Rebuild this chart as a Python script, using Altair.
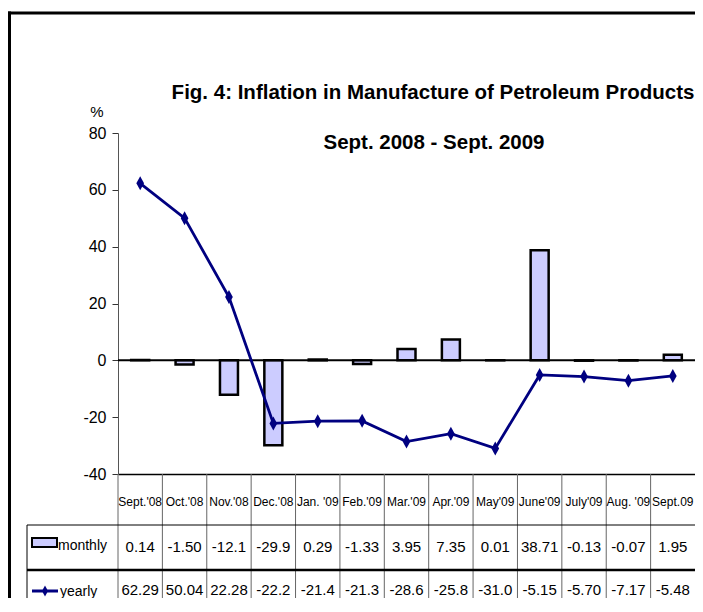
import altair as alt
import pandas as pd

# ---- data ----
cats = ["Sept.'08", "Oct.'08", "Nov.'08", "Dec.'08", "Jan. '09", "Feb.'09", "Mar.'09",
        "Apr.'09", "May'09", "June'09", "July'09", "Aug. '09", "Sept.09"]
monthly = [0.14, -1.50, -12.1, -29.9, 0.29, -1.33, 3.95, 7.35, 0.01, 38.71, -0.13, -0.07, 1.95]
monthly_lbl = ["0.14", "-1.50", "-12.1", "-29.9", "0.29", "-1.33", "3.95", "7.35", "0.01",
               "38.71", "-0.13", "-0.07", "1.95"]
yearly = [62.29, 50.04, 22.28, -22.2, -21.4, -21.3, -28.6, -25.8, -31.0, -5.15, -5.70, -7.17, -5.48]
yearly_lbl = ["62.29", "50.04", "22.28", "-22.2", "-21.4", "-21.3", "-28.6", "-25.8", "-31.0",
              "-5.15", "-5.70", "-7.17", "-5.48"]
yticks = [-40, -20, 0, 20, 40, 60, 80]
title1 = "Fig. 4: Inflation in Manufacture of Petroleum Products"
title2 = "Sept. 2008 - Sept. 2009"

df = pd.DataFrame({"cat": cats, "monthly": monthly, "monthly_lbl": monthly_lbl,
                   "yearly": yearly, "yearly_lbl": yearly_lbl})
one = pd.DataFrame({"k": [0]})

W, H = 577, 341
FONT = "Liberation Sans Narrow, Arial Narrow, Liberation Sans, Arial, sans-serif"
NAVY = "#000080"
LAV = "#CCCCFF"
DIAMOND = "M0,-1L0.55,0L0,1L-0.55,0Z"

xs = alt.Scale(domain=cats, paddingInner=0, paddingOuter=0)
ys = alt.Scale(domain=[-40, 80], nice=False, zero=False)
x_axis = alt.Axis(labels=False, ticks=False, title=None, grid=False,
                  domainColor="black", domainWidth=1.5)
y_axis = alt.Axis(values=yticks, title=None, grid=False, tickSize=6, tickColor="#333",
                  domainColor="#555", labelFont=FONT, labelFontSize=16, labelPadding=6,
                  labelColor="black", labelExpr="'' + datum.value")


def X(**kw):
    return alt.X("cat:N", scale=xs, axis=x_axis, **kw)


base = alt.Chart(df)

sep = base.mark_rule(color="#666", strokeWidth=1).encode(
    x=X(bandPosition=0), y=alt.value(H), y2=alt.value(H + 130))

bars = base.mark_bar(size=18, fill=LAV, stroke="black", strokeWidth=2.5).encode(
    x=X(), y=alt.Y("monthly:Q", scale=ys, axis=y_axis))

zero = alt.Chart(one).mark_rule(color="black", strokeWidth=2).encode(
    y=alt.YDatum(0, scale=ys, axis=y_axis))

line = base.mark_line(color=NAVY, strokeWidth=2.8).encode(
    x=X(), y=alt.Y("yearly:Q", scale=ys, axis=y_axis))

pts = base.mark_point(shape=DIAMOND, filled=True, size=196, color=NAVY, opacity=1).encode(
    x=X(), y=alt.Y("yearly:Q", scale=ys, axis=y_axis))

hdr = base.mark_text(font=FONT, fontSize=12, baseline="middle", color="black").encode(
    x=X(), y=alt.value(369), text="cat:N")
mtxt = base.mark_text(font=FONT, fontSize=15, baseline="middle", color="black").encode(
    x=X(), y=alt.value(414), text="monthly_lbl:N")
ytxt = base.mark_text(font=FONT, fontSize=15, baseline="middle", color="black").encode(
    x=X(), y=alt.value(457), text="yearly_lbl:N")

o = alt.Chart(one)
h1 = o.mark_rule(color="black", strokeWidth=1).encode(
    x=alt.value(-91), x2=alt.value(W), y=alt.value(392))
h2 = o.mark_rule(color="black", strokeWidth=2.5).encode(
    x=alt.value(-91), x2=alt.value(W), y=alt.value(437))
vl = o.mark_rule(color="black", strokeWidth=1).encode(
    x=alt.value(-91), y=alt.value(392), y2=alt.value(470))
bl = o.mark_rule(color="black", strokeWidth=3).encode(
    x=alt.value(-108.5), y=alt.value(-121.5), y2=alt.value(470))
bt = o.mark_rule(color="black", strokeWidth=3).encode(
    x=alt.value(-110), x2=alt.value(W), y=alt.value(-120))

leg_rect = o.mark_rect(fill=LAV, stroke="black", strokeWidth=2).encode(
    x=alt.value(-86), x2=alt.value(-61), y=alt.value(405), y2=alt.value(414))
leg_mt = o.mark_text(font=FONT, fontSize=14, align="left", baseline="middle").encode(
    x=alt.value(-60), y=alt.value(413), text=alt.value("monthly"))
leg_line = o.mark_rule(color=NAVY, strokeWidth=3).encode(
    x=alt.value(-86), x2=alt.value(-60), y=alt.value(458))
leg_pt = o.mark_point(shape=DIAMOND, filled=True, size=120, color=NAVY, opacity=1).encode(
    x=alt.value(-73), y=alt.value(458))
leg_yt = o.mark_text(font=FONT, fontSize=14, align="left", baseline="middle").encode(
    x=alt.value(-58), y=alt.value(459), text=alt.value("yearly"))

pct = o.mark_text(font=FONT, fontSize=15, baseline="middle").encode(
    x=alt.value(-21), y=alt.value(-21), text=alt.value("%"))
t1 = o.mark_text(font=FONT, fontSize=20.5, fontWeight="bold", baseline="middle").encode(
    x=alt.value(315), y=alt.value(-40), text=alt.value(title1))
t2 = o.mark_text(font=FONT, fontSize=20.5, fontWeight="bold", baseline="middle").encode(
    x=alt.value(316), y=alt.value(10), text=alt.value(title2))

chart = alt.layer(
    sep, bars, zero, line, pts, hdr, mtxt, ytxt, h1, h2, vl, bl, bt,
    leg_rect, leg_mt, leg_line, leg_pt, leg_yt, pct, t1, t2
).properties(
    width=W, height=H,
    autosize=alt.AutoSizeParams(type="none"),
    padding={"left": 110, "top": 125, "right": 0, "bottom": 124},
).configure_view(stroke="transparent")

chart.save("out.html", embed_options={"renderer": "svg", "actions": False})
